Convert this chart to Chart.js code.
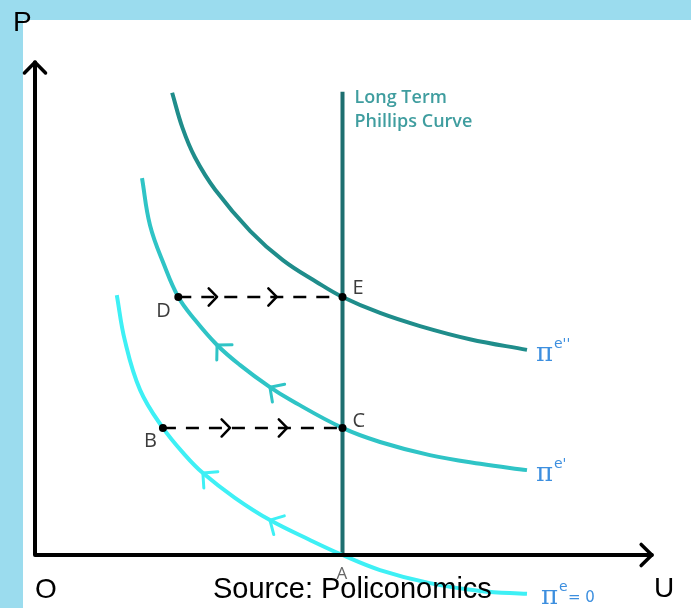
<!DOCTYPE html>
<html>
<head>
<meta charset="utf-8">
<script src="https://cdn.jsdelivr.net/npm/chart.js@4.4.1/dist/chart.umd.min.js"></script>
<style>
html, body { margin: 0; padding: 0; background: #fff; }
canvas { display: block; }
</style>
</head>
<body>
<canvas id="phillips" width="691" height="608"></canvas>
<script>
// short-run Phillips curves (unemployment U on x, inflation P on y)
var highX = [2.23, 2.40, 2.60, 2.93, 3.50, 4.03, 4.59, 5.00, 5.61, 6.26, 7.07, 8.00];
var highY = [9.53, 8.80, 8.20, 7.53, 6.68, 6.08, 5.62, 5.32, 4.99, 4.72, 4.45, 4.23];
var midX = [1.74, 1.87, 2.10, 2.33, 2.60, 2.96, 3.33, 3.82, 4.15, 5.00, 5.61, 6.42, 7.24, 8.00];
var midY = [7.77, 6.80, 5.98, 5.32, 4.85, 4.33, 3.92, 3.46, 3.20, 2.62, 2.33, 2.06, 1.88, 1.75];
var zeroX = [1.33, 1.46, 1.71, 2.08, 2.44, 2.73, 3.25, 3.82, 4.47, 5.00, 5.61, 6.42, 7.24, 8.00];
var zeroY = [5.36, 4.43, 3.40, 2.62, 2.06, 1.69, 1.18, 0.72, 0.31, 0.00, -0.31, -0.58, -0.74, -0.80];

// long term curve: vertical at the natural rate
var lrpcX = [5, 5];
var lrpcY = [0, 9.55];

// labelled points
var pointNames = ['D', 'E', 'B', 'C'];
var pointX = [2.33, 5.00, 2.08, 5.00];
var pointY = [5.32, 5.32, 2.62, 2.62];

// arrowheads along the dashed moves D->E and B->C
var moveDE = [2.96, 3.93];
var moveBC = [3.17, 4.10];

// indexes of points carrying a direction arrow on each curve
var midArrows = [5, 7];
var zeroArrows = [5, 7];

// axis extents
var axisEndX = 10.03;
var axisEndY = 10.16;

function pts(xs, ys) {
  return xs.map(function (x, i) { return { x: x, y: ys[i] }; });
}

function chevron(ctx, x, y, ang, len, spread) {
  ctx.beginPath();
  ctx.moveTo(x - len * Math.cos(ang - spread), y - len * Math.sin(ang - spread));
  ctx.lineTo(x, y);
  ctx.lineTo(x - len * Math.cos(ang + spread), y - len * Math.sin(ang + spread));
  ctx.stroke();
}

var backdrop = {
  id: 'backdrop',
  beforeDraw: function (chart) {
    var ctx = chart.ctx;
    ctx.save();
    ctx.fillStyle = '#ffffff';
    ctx.fillRect(0, 0, chart.width, chart.height);
    ctx.fillStyle = '#9bdcee';
    ctx.fillRect(0, 0, chart.width, 20);
    ctx.fillRect(0, 0, 23, chart.height);
    ctx.restore();
  }
};

var sketch = {
  id: 'sketch',
  afterDatasetsDraw: function (chart) {
    var ctx = chart.ctx;
    var sx = chart.scales.x, sy = chart.scales.y;
    var px = function (v) { return sx.getPixelForValue(v); };
    var py = function (v) { return sy.getPixelForValue(v); };
    ctx.save();
    ctx.lineCap = 'round';
    ctx.lineJoin = 'round';

    // axes with arrowheads
    ctx.strokeStyle = '#000';
    ctx.lineWidth = 4;
    ctx.beginPath();
    ctx.moveTo(px(0), py(axisEndY));
    ctx.lineTo(px(0), py(0));
    ctx.lineTo(px(axisEndX), py(0));
    ctx.stroke();
    ctx.lineWidth = 3.5;
    chevron(ctx, px(0), py(axisEndY), -Math.PI / 2, 15, 0.78);
    chevron(ctx, px(axisEndX), py(0), 0, 15, 0.78);

    // dashed moves with their arrowheads
    ctx.lineWidth = 2.5;
    ctx.lineCap = 'butt';
    ctx.setLineDash([13, 10]);
    [[0, 1], [2, 3]].forEach(function (p) {
      ctx.beginPath();
      ctx.moveTo(px(pointX[p[0]]), py(pointY[p[0]]));
      ctx.lineTo(px(pointX[p[1]]), py(pointY[p[1]]));
      ctx.stroke();
    });
    ctx.setLineDash([]);
    ctx.lineCap = 'round';
    moveDE.forEach(function (u) { chevron(ctx, px(u), py(pointY[0]), 0, 12, 0.8); });
    moveBC.forEach(function (u) { chevron(ctx, px(u), py(pointY[2]), 0, 12, 0.8); });

    // direction arrows on the short-run curves
    ctx.lineWidth = 3;
    [[midX, midY, midArrows, '#2fc4c6'], [zeroX, zeroY, zeroArrows, '#3ef0f5']].forEach(function (c) {
      ctx.strokeStyle = c[3];
      c[2].forEach(function (i) {
        var dx = px(c[0][i - 1]) - px(c[0][i + 1]);
        var dy = py(c[1][i - 1]) - py(c[1][i + 1]);
        chevron(ctx, px(c[0][i]), py(c[1][i]), Math.atan2(dy, dx), 15, 0.8);
      });
    });

    // labelled points
    ctx.fillStyle = '#000';
    pointX.forEach(function (u, i) {
      ctx.beginPath();
      ctx.arc(px(u), py(pointY[i]), 4, 0, Math.PI * 2);
      ctx.fill();
    });
    ctx.restore();
  },
  afterDraw: function (chart) {
    var ctx = chart.ctx;
    var sx = chart.scales.x, sy = chart.scales.y;
    var px = function (v) { return sx.getPixelForValue(v); };
    var py = function (v) { return sy.getPixelForValue(v); };
    ctx.save();
    ctx.textBaseline = 'alphabetic';

    // point letters
    ctx.fillStyle = '#3c3c3c';
    ctx.font = '20px "Open Sans"';
    var offs = [[-22, 20], [10, -3], [-19, 19], [10, -1]];
    pointNames.forEach(function (n, i) {
      ctx.fillText(n, px(pointX[i]) + offs[i][0], py(pointY[i]) + offs[i][1]);
    });
    ctx.font = '17px "Open Sans"';
    ctx.fillStyle = '#666';
    ctx.fillText('A', px(lrpcX[0]) - 6, py(0) + 24);

    // long term curve caption
    ctx.fillStyle = '#3f9d9f';
    ctx.font = '600 18px "Open Sans"';
    ctx.fillText('Long Term', px(lrpcX[0]) + 12, py(lrpcY[1]) + 11);
    ctx.fillText('Phillips Curve', px(lrpcX[0]) + 12, py(lrpcY[1]) + 35);

    // expectation labels at curve ends
    ctx.fillStyle = '#3d8fdf';
    function pi(x, y, sup) {
      ctx.font = '26px "DejaVu Serif"';
      ctx.fillText('\u03c0', x, y);
      ctx.font = '14px "DejaVu Sans"';
      ctx.fillText(sup, x + 18, y - 13);
    }
    var hx = highX.length - 1, mx = midX.length - 1, zx = zeroX.length - 1;
    pi(px(highX[hx]) + 9, py(highY[hx]) + 11, "e''");
    pi(px(midX[mx]) + 9, py(midY[mx]) + 11, "e'");
    pi(px(zeroX[zx]) + 14, py(zeroY[zx]) + 10, 'e');
    ctx.font = '15px "DejaVu Sans"';
    ctx.fillText('= 0', px(zeroX[zx]) + 41, py(zeroY[zx]) + 8);

    // axis letters and source line
    ctx.fillStyle = '#000';
    ctx.font = '28px "Liberation Sans"';
    ctx.fillText('P', 13, 31);
    ctx.fillText('O', 35, 598);
    ctx.fillText('U', 654, 597);
    ctx.font = '29px "Liberation Sans"';
    ctx.fillText('Source: Policonomics', 213, 598);
    ctx.restore();
  }
};

var curveStyle = function (label, xs, ys, color) {
  return {
    label: label,
    data: pts(xs, ys),
    showLine: true,
    fill: false,
    borderColor: color,
    borderWidth: 4,
    pointRadius: 0,
    tension: 0.4
  };
};

var ctx = document.getElementById('phillips').getContext('2d');
var myChart = new Chart(ctx, {
  type: 'scatter',
  data: {
    datasets: [
      curveStyle('\u03c0e\'\'', highX, highY, '#1f8d8b'),
      curveStyle('\u03c0e\'', midX, midY, '#2fc4c6'),
      curveStyle('\u03c0e = 0', zeroX, zeroY, '#3ef0f5'),
      {
        label: 'Long Term Phillips Curve',
        data: pts(lrpcX, lrpcY),
        showLine: true,
        borderColor: '#1d6f70',
        borderWidth: 4,
        pointRadius: 0
      }
    ]
  },
  options: {
    responsive: false,
    animation: false,
    layout: { padding: { left: 35, right: 28.7, top: 60.3, bottom: 4.5 } },
    plugins: {
      legend: { display: false },
      tooltip: { enabled: false }
    },
    scales: {
      x: { type: 'linear', display: false, min: 0, max: 10.2 },
      y: { type: 'linear', display: false, min: -1, max: 10.2 }
    }
  },
  plugins: [backdrop, sketch]
});
</script>
</body>
</html>
